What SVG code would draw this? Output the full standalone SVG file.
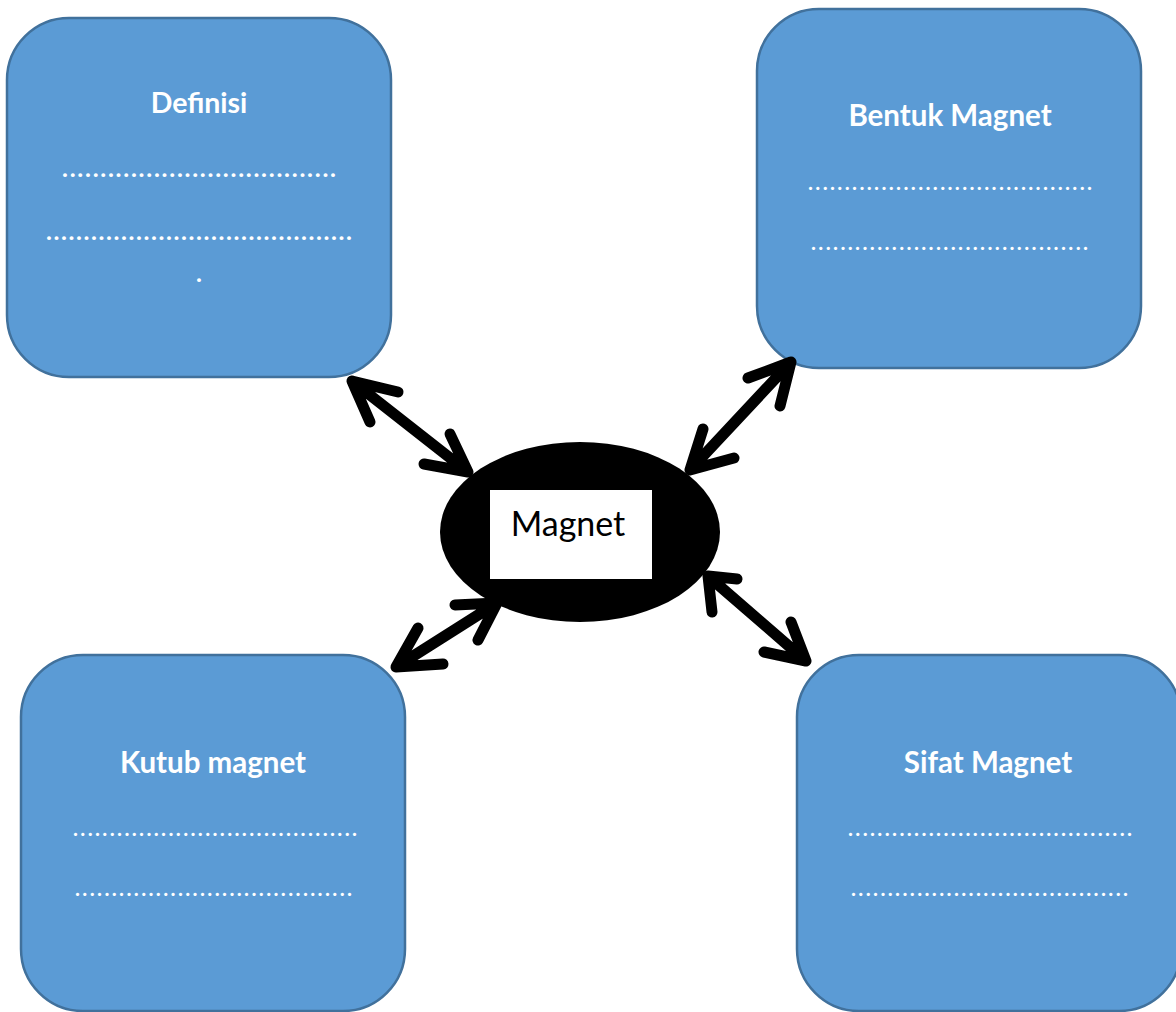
<svg xmlns="http://www.w3.org/2000/svg" width="1176" height="1012" viewBox="0 0 1176 1012">
<style>
.box{fill:#5B9BD5;stroke:#41719C;stroke-width:2.5}
.title{font-family:Lato,"Open Sans","Liberation Sans",sans-serif;font-weight:bold;font-size:29.5px;fill:#fff;text-anchor:middle}
.dots{font-family:Lato,"Liberation Sans",sans-serif;font-size:21px;font-weight:bold;fill:#fff}
.dotsb{font-family:Lato,"Liberation Sans",sans-serif;font-size:25px;font-weight:bold;fill:#fff}
.arr{fill:none;stroke:#000;stroke-width:11;stroke-linecap:round;stroke-linejoin:round}
</style>
<rect width="1176" height="1012" fill="#fff"/>
<g id="node-definisi">
<rect class="box" x="7" y="18" width="384" height="359" rx="62"/>
<text class="title" x="199" y="113" style="font-size:28.5px">Definisi</text>
<text class="dotsb" x="62" y="177" textLength="274" lengthAdjust="spacing">....................................</text>
<text class="dotsb" x="46" y="240" textLength="306" lengthAdjust="spacing">.........................................</text>
<text class="dotsb" x="199" y="282" text-anchor="middle">.</text>
</g>
<g id="node-bentuk">
<rect class="box" x="757" y="9" width="384" height="359" rx="62"/>
<text class="title" x="950" y="126">Bentuk Magnet</text>
<text class="dots" x="808" y="190" textLength="284" lengthAdjust="spacing">.......................................</text>
<text class="dots" x="811" y="250" textLength="277" lengthAdjust="spacing">......................................</text>
</g>
<g id="node-kutub">
<rect class="box" x="21" y="655" width="384" height="356" rx="62"/>
<text class="title" x="213" y="773">Kutub magnet</text>
<text class="dots" x="73" y="836" textLength="284" lengthAdjust="spacing">.......................................</text>
<text class="dots" x="75" y="896" textLength="277" lengthAdjust="spacing">......................................</text>
</g>
<g id="node-sifat">
<rect class="box" x="797" y="655" width="384" height="356" rx="62"/>
<text class="title" x="988" y="773">Sifat Magnet</text>
<text class="dots" x="848" y="836" textLength="284" lengthAdjust="spacing">.......................................</text>
<text class="dots" x="851" y="896" textLength="277" lengthAdjust="spacing">......................................</text>
</g>
<g id="node-magnet">
<ellipse cx="580" cy="532" rx="140" ry="90" fill="#000"/>
<rect x="490" y="490" width="162" height="89" fill="#fff"/>
<text x="568" y="536" font-family="Lato,'Open Sans','Liberation Sans',sans-serif" font-size="34" fill="#000" text-anchor="middle">Magnet</text>
</g>
<g id="connectors">
<path class="arr" d="M352 381 L468 472 M398 392 L352 381 L370 422 M450 434 L468 472 L424 464"/>
<path class="arr" d="M791 362 L690 470 M748 378 L791 362 L780 406 M703 429 L690 470 L734 458"/>
<path class="arr" d="M497 603 L396 667 M455 605 L497 603 L478 640 M418 628 L396 667 L443 664"/>
<path class="arr" d="M708 576 L806 661 M737 579 L708 576 L712 612 M791 622 L806 661 L764 652"/>
</g>
</svg>
